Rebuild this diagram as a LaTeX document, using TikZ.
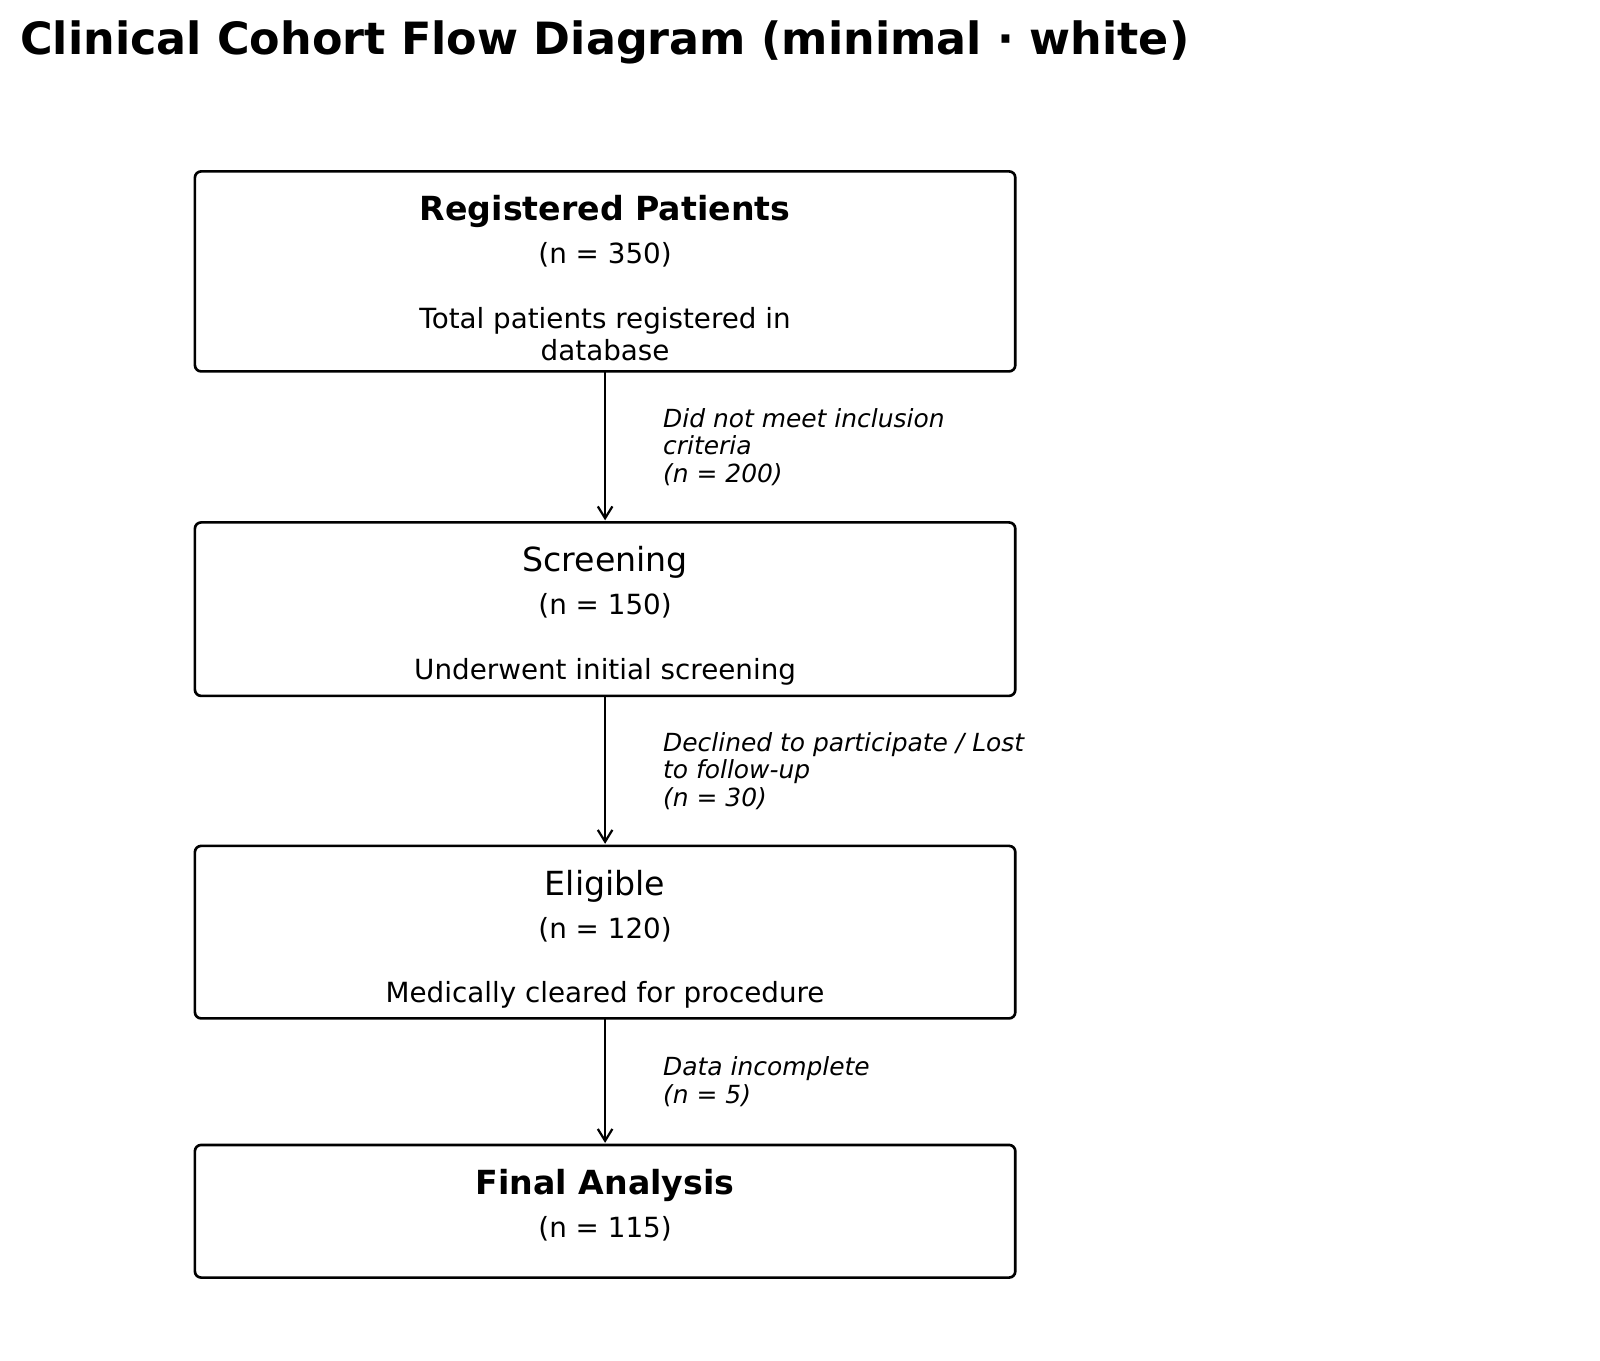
\documentclass[tikz,border=0pt]{standalone}
\usepackage{fontspec}
\setmainfont{DejaVu Sans}
\usetikzlibrary{calc,arrows.meta}
\tikzset{x=0.72pt,y=-0.72pt,
  stagebox/.style={draw=black,line width=1.9pt,rounded corners=4.5pt,minimum width=590.7pt,inner sep=0pt,outer sep=0pt},
  headbold/.style={font=\bfseries\fontsize{23.9}{28}\selectfont,inner sep=0pt,anchor=base},
  headplain/.style={font=\fontsize{23.9}{28}\selectfont,inner sep=0pt,anchor=base},
  countlab/.style={font=\fontsize{20}{23.3}\selectfont,inner sep=0pt,anchor=base},
  desclab/.style={font=\fontsize{20}{23.3}\selectfont,inner sep=0pt,align=center,anchor=north},
  droplab/.style={font=\itshape\fontsize{17.95}{19.9}\selectfont,inner sep=0pt,align=left,anchor=west,xshift=41pt},
  flowarrow/.style={line width=1.6pt,-{Straight Barb[length=8.5pt,width=10.5pt,line width=1.6pt]},shorten >=1.5pt}}

\begin{document}
\begin{tikzpicture}
       \useasboundingbox (0,0) rectangle (1600,1361);
       \node[anchor=base west,inner sep=0pt,font=\bfseries\fontsize{32}{37}\selectfont] (title) at (20,55) {Clinical Cohort Flow Diagram (minimal · white)};

       \node[stagebox,minimum height=144pt] (reg) at (605.1,271.4) {};
       \node[stagebox,minimum height=124.9pt] (scr) at (605.1,609.15) {};
       \node[stagebox,minimum height=124.2pt] (elig) at (605.1,932.15) {};
       \node[stagebox,minimum height=95.5pt] (fin) at (605.1,1211.25) {};

       \node[headbold] (regh) at ($(reg.north)+(0,49.5)$) {Registered Patients};
       \node[countlab] (regn) at ($(reg.north)+(0,92.5)$) {(n = 350)};
       \node[desclab] (regd) at ($(reg.north)+(0,135.5)$) {Total patients registered in\\database};

       \node[headplain] (scrh) at ($(scr.north)+(0,49.5)$) {Screening};
       \node[countlab] (scrn) at ($(scr.north)+(0,92.5)$) {(n = 150)};
       \node[desclab] (scrd) at ($(scr.north)+(0,135.5)$) {Underwent initial screening};

       \node[headplain] (eligh) at ($(elig.north)+(0,49.5)$) {Eligible};
       \node[countlab] (elign) at ($(elig.north)+(0,92.5)$) {(n = 120)};
       \node[desclab] (eligd) at ($(elig.north)+(0,135.5)$) {Medically cleared for procedure};

       \node[headbold] (finh) at ($(fin.north)+(0,49.5)$) {Final Analysis};
       \node[countlab] (finn) at ($(fin.north)+(0,92.5)$) {(n = 115)};

       \draw[flowarrow] (reg) -- node[droplab] (drop1) {Did not meet inclusion\\criteria\\(n = 200)} (scr);
       \draw[flowarrow] (scr) -- node[droplab] (drop2) {Declined to participate / Lost\\to follow-up\\(n = 30)} (elig);
       \draw[flowarrow] (elig) -- node[droplab] (drop3) {Data incomplete\\(n = 5)} (fin);
     \end{tikzpicture}
\end{document}
